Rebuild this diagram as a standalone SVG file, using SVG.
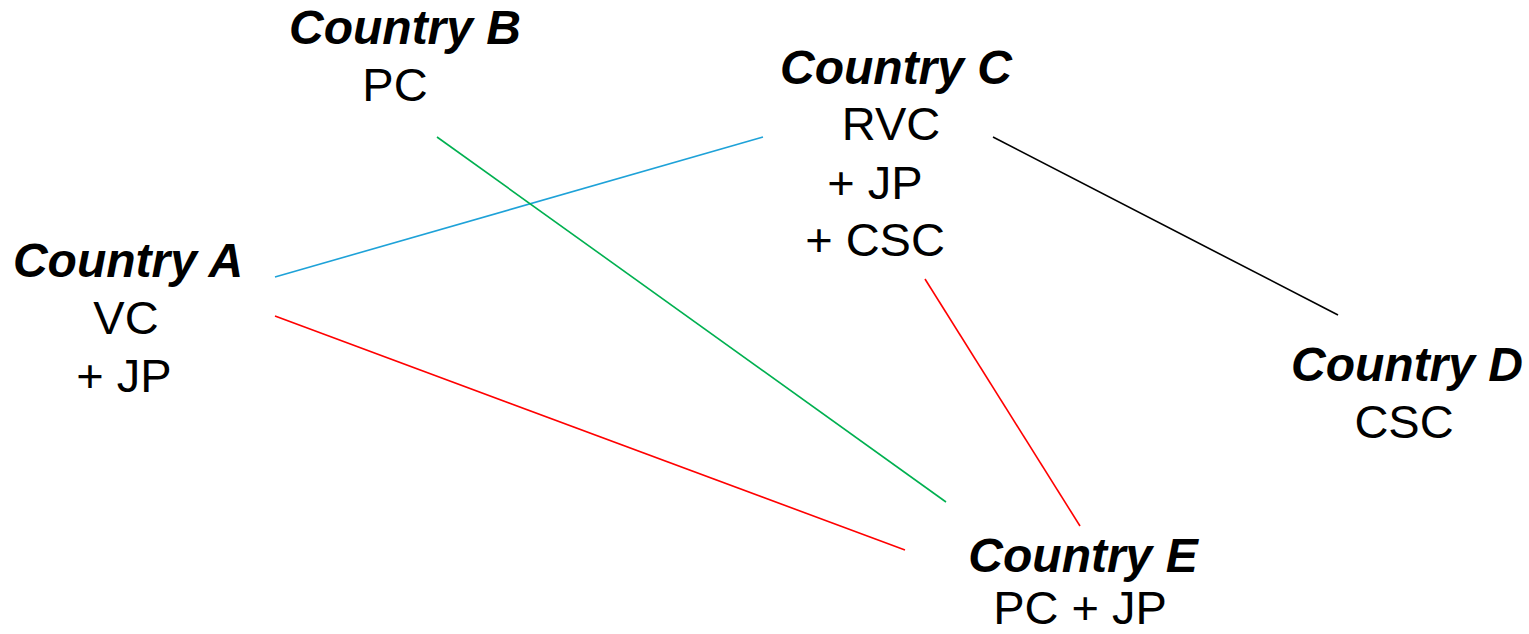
<svg xmlns="http://www.w3.org/2000/svg" width="1529" height="634" viewBox="0 0 1529 634">
<style>
text{font-family:"Liberation Sans",Arial,sans-serif;font-size:47px;fill:#000;text-anchor:middle}
.t{font-weight:bold;font-style:italic;font-size:48px}
line{stroke-width:1.6;fill:none}
</style>
<rect width="1529" height="634" fill="#fff"/>
<g id="connectors">
<line x1="275" y1="277" x2="763" y2="137" stroke="#1ea2d8"/>
<line x1="275" y1="316" x2="905" y2="550" stroke="#ff0000"/>
<line x1="437" y1="137" x2="946" y2="502" stroke="#00b050"/>
<line x1="993" y1="137" x2="1338" y2="315" stroke="#000"/>
<line x1="925" y1="279" x2="1080" y2="526" stroke="#ff0000"/>
</g>
<g id="countryA"><text class="t" x="128" y="277">Country A</text><text x="126" y="334">VC</text><text x="124" y="392">+ JP</text></g>
<g id="countryB"><text class="t" x="405" y="44">Country B</text><text x="395" y="101">PC</text></g>
<g id="countryC"><text class="t" x="896" y="84">Country C</text><text x="891" y="140">RVC</text><text x="875" y="199">+ JP</text><text x="875" y="256">+ CSC</text></g>
<g id="countryD"><text class="t" x="1407" y="381">Country D</text><text x="1404" y="438">CSC</text></g>
<g id="countryE"><text class="t" x="1083" y="572">Country E</text><text x="1080" y="624">PC + JP</text></g>
</svg>
